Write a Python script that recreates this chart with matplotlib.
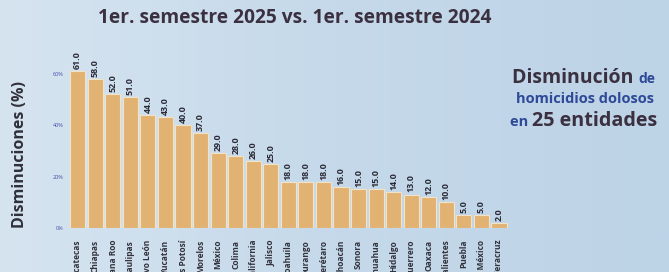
import matplotlib
matplotlib.use("Agg")
import matplotlib.pyplot as plt
import numpy as np
from matplotlib.colors import LinearSegmentedColormap

# Data
estados = ["Zacatecas", "Chiapas", "Quintana Roo", "Tamaulipas", "Nuevo León",
           "Yucatán", "San Luis Potosí", "Morelos", "México", "Colima",
           "Baja California", "Jalisco", "Coahuila", "Durango", "Querétaro",
           "Michoacán", "Sonora", "Chihuahua", "Hidalgo", "Guerrero",
           "Oaxaca", "Aguascalientes", "Puebla", "Ciudad de México", "Veracruz"]
disminucion = [61, 58, 52, 51, 44, 43, 40, 37, 29, 28, 26, 25, 18, 18, 18,
               16, 15, 15, 14, 13, 12, 10, 5, 5, 2]
y_ticks = [0, 20, 40, 60]
y_tick_labels = ["0%", "20%", "40%", "60%"]

FONT = "Open Sans"
DARK = "#3a3040"
BLUE = "#2e4a98"
BAR = "#e2b273"

fig = plt.figure(figsize=(6.69, 2.72), dpi=100)
fig.patch.set_facecolor("#c6d9ea")

# soft background gradient (lighter on the left)
bg = fig.add_axes([0, 0, 1, 1], zorder=-10)
grad = np.linspace(0, 1, 256).reshape(1, -1)
cmap_bg = LinearSegmentedColormap.from_list("bg", ["#d6e4f0", "#c5d9ea", "#bdd3e6"])
bg.imshow(grad, aspect="auto", cmap=cmap_bg, extent=[0, 1, 0, 1])
bg.axis("off")

ax = fig.add_axes([0.103, 0.162, 0.656, 0.614])
ax.set_facecolor("none")
x = np.arange(len(estados))
ax.bar(x, disminucion, width=0.86, color=BAR, edgecolor="#f3e3c6", linewidth=0.8)

for xi, v in zip(x, disminucion):
    ax.text(xi, v + 0.8, f"{v:.1f}", rotation=90, ha="center", va="bottom",
            fontsize=6.4, fontweight="bold", color="#2a2a36", family=FONT)

ax.set_xlim(-0.5, len(estados) - 0.5)
ax.set_ylim(0, 65)
ax.set_yticks(y_ticks)
ax.set_yticklabels(y_tick_labels, fontsize=4, color="#4a4aa8", family=FONT)
ax.tick_params(axis="y", length=0, pad=4)
ax.set_xticks([])
for s in ax.spines.values():
    s.set_visible(False)

for xi, name in zip(x, estados):
    ax.text(xi, -4.6, name, rotation=90, ha="center", va="top", fontsize=6,
            fontweight="bold", color="#33333d", family=FONT, clip_on=False)

ax.set_ylabel("Disminuciones (%)", fontsize=11.5, fontweight="bold", color="#30303a",
              family=FONT)
ax.yaxis.set_label_coords(-0.094, 0.44)

fig.text(0.441, 0.935, "1er. semestre 2025 vs. 1er. semestre 2024", ha="center",
         va="center", fontsize=13.8, fontweight="bold", color=DARK, family=FONT)

# right-hand caption with mixed colours
fig.canvas.draw()
renderer = fig.canvas.get_renderer()


def line(parts, xc, yc):
    texts = []
    for s, c, fs in parts:
        texts.append(fig.text(0, yc, s, color=c, fontsize=fs, fontweight="bold",
                              family=FONT, va="baseline", ha="left"))
    widths = [t.get_window_extent(renderer).width / fig.bbox.width for t in texts]
    total = sum(widths)
    xpos = xc - total / 2
    for t, w in zip(texts, widths):
        t.set_x(xpos)
        xpos += w


line([("Disminución ", DARK, 14), ("de", BLUE, 10)], 0.872, 0.695)
line([("homicidios dolosos", BLUE, 10.5)], 0.875, 0.62)
line([("en ", BLUE, 10.5), ("25 entidades", DARK, 14.2)], 0.873, 0.535)

fig.savefig("out.png", dpi=100, facecolor=fig.get_facecolor())
